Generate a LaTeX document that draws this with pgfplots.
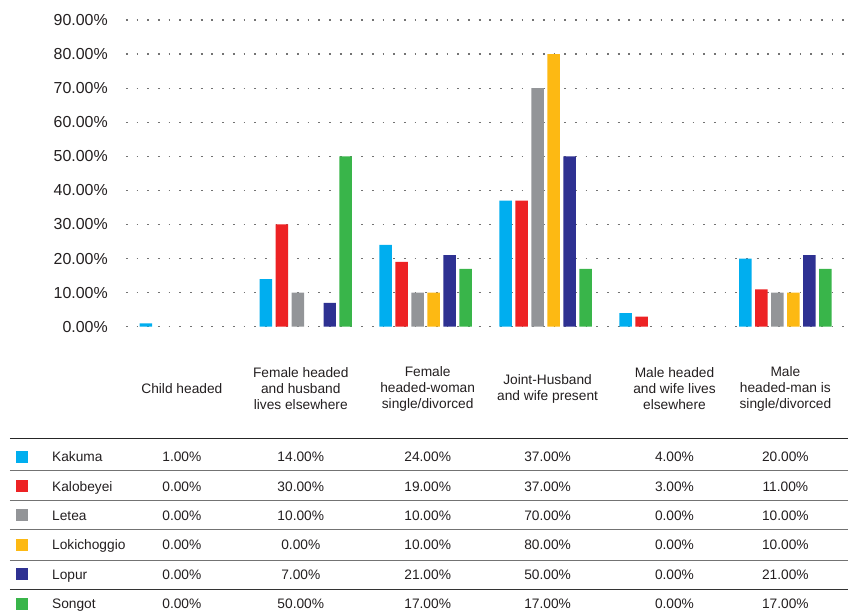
\documentclass[border=0pt]{standalone}
\usepackage{fontspec}
\setmainfont{Liberation Sans}
\usepackage{pgfplots}
\pgfplotsset{compat=1.18}

\definecolor{cKak}{HTML}{00AEEF}
\definecolor{cKal}{HTML}{ED2224}
\definecolor{cLet}{HTML}{939598}
\definecolor{cLok}{HTML}{FDB913}
\definecolor{cLop}{HTML}{2E3192}
\definecolor{cSon}{HTML}{39B54A}
\definecolor{txt}{HTML}{231F20}

\begin{document}
\begin{tikzpicture}[x=1bp,y=1bp]
\begin{axis}[
  scale only axis,
  width=720bp, height=307bp,
  xmin=0, xmax=6, ymin=0, ymax=90,
  ybar=3.5bp, bar width=12.5bp,
  axis line style={draw=none},
  major tick length=0pt,
  xtick=\empty,
  ytick={0,10,...,90},
  ymajorgrids,
  major grid style={dash pattern=on 1.8bp off 8.9bp, line width=1.2bp, color=black!55},
  /pgf/number format/assume math mode=true,
  yticklabel={\pgfmathprintnumber[fixed,fixed zerofill,precision=2]{\tick}\%},
  yticklabel style={font=\fontsize{16}{16}\selectfont, text=txt, anchor=east, inner sep=0pt, xshift=-18bp},
  % zero values draw no bar
  unbounded coords=discard,
  y filter/.expression={y==0 ? nan : y},
  every axis plot/.append style={draw=none},
]
\addplot[fill=cKak] coordinates {(0.5,1) (1.5,14) (2.5,24) (3.5,37) (4.5,4) (5.5,20)};
\addplot[fill=cKal] coordinates {(0.5,0) (1.5,30) (2.5,19) (3.5,37) (4.5,3) (5.5,11)};
\addplot[fill=cLet] coordinates {(0.5,0) (1.5,10) (2.5,10) (3.5,70) (4.5,0) (5.5,10)};
\addplot[fill=cLok] coordinates {(0.5,0) (1.5,0) (2.5,10) (3.5,80) (4.5,0) (5.5,10)};
\addplot[fill=cLop] coordinates {(0.5,0) (1.5,7) (2.5,21) (3.5,50) (4.5,0) (5.5,21)};
\addplot[fill=cSon] coordinates {(0.5,0) (1.5,50) (2.5,17) (3.5,17) (4.5,0) (5.5,17)};
\end{axis}

% data table below the chart
\begin{scope}[every node/.style={text=txt, font=\fontsize{13.8}{16}\selectfont, inner sep=0pt}]
  \node[align=center] at (56,-62) {Child headed};
  \node[align=center] at (175,-62) {Female headed\\and husband\\lives elsewhere};
  \node[align=center] at (302,-62) {Female\\headed-woman\\single/divorced};
  \node[align=center] at (422,-62) {Joint-Husband\\and wife present};
  \node[align=center] at (549,-62) {Male headed\\and wife lives\\elsewhere};
  \node[align=center] at (660,-62) {Male\\headed-man is\\single/divorced};

  \draw[line width=1.3bp, black!85] (-116,-112) -- (723,-112);
  \foreach \y in {-144,-174,-203,-234}
    \draw[line width=1.1bp, black!55] (-116,\y) -- (723,\y);
  \draw[line width=1.1bp, black!80] (-116,-263) -- (723,-263);

  \foreach \nm/\cl/\a/\b/\c/\d/\e/\f [count=\i from 0] in {
      Kakuma/cKak/1.00/14.00/24.00/37.00/4.00/20.00,
      Kalobeyei/cKal/0.00/30.00/19.00/37.00/3.00/11.00,
      Letea/cLet/0.00/10.00/10.00/70.00/0.00/10.00,
      Lokichoggio/cLok/0.00/0.00/10.00/80.00/0.00/10.00,
      Lopur/cLop/0.00/7.00/21.00/50.00/0.00/21.00,
      Songot/cSon/0.00/50.00/17.00/17.00/0.00/17.00} {
    \pgfmathsetmacro{\yy}{-130-29.4*\i}
    \fill[\cl] (-110,\yy-6) rectangle (-98,\yy+6);
    \begin{scope}[yshift=-2.5bp]
    \node[anchor=mid west] at (-74,\yy) {\nm};
    \node[anchor=mid] at (56,\yy) {\a\%};
    \node[anchor=mid] at (175,\yy) {\b\%};
    \node[anchor=mid] at (302,\yy) {\c\%};
    \node[anchor=mid] at (422,\yy) {\d\%};
    \node[anchor=mid] at (549,\yy) {\e\%};
    \node[anchor=mid] at (660,\yy) {\f\%};
    \end{scope}
  }
\end{scope}

\path[use as bounding box] (-126,-287) rectangle (723,327);
\end{tikzpicture}
\end{document}
